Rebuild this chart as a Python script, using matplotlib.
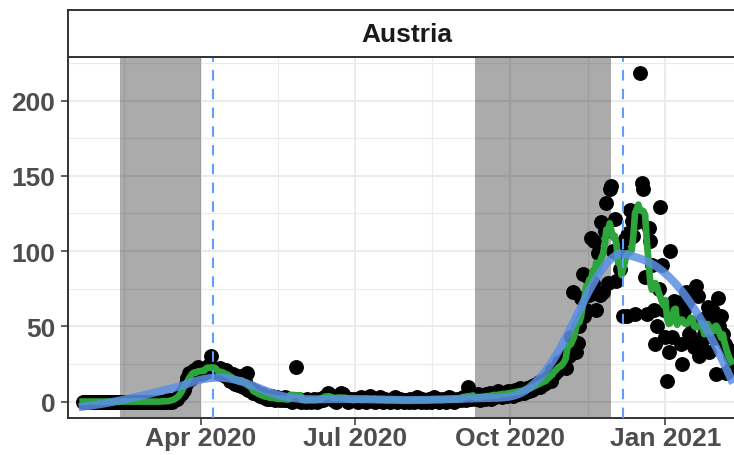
import numpy as np
import pandas as pd
import matplotlib
matplotlib.use('Agg')
import matplotlib.pyplot as plt
import matplotlib.dates as mdates
from matplotlib.ticker import FixedLocator

plt.rcParams['font.family'] = ['Liberation Sans', 'DejaVu Sans']
plt.rcParams['font.weight'] = 'bold'

country = 'Austria'
first_day = '2020-01-22'

# daily deaths, one list per month
jan20 = [0, 0, 0, 0, 0, 0, 0, 0, 0, 0]
feb20 = [0, 0, 0, 0, 0, 0, 0, 0, 0, 0, 0, 0, 0, 0, 0, 0, 0, 0, 0, 0,
         0, 0, 0, 0, 0, 0, 0, 0, 0]
mar20 = [0, 0, 0, 0, 0, 0, 0, 0, 0, 0, 0, 1, 0, 1, 0, 1, 2, 2, 4, 5,
         6, 8, 12, 16, 19, 15, 18, 21, 19, 23, 20]
apr20 = [18, 21, 19, 22, 20, 24, 30, 22, 20, 21, 19, 22, 18, 20, 17, 21, 19, 14, 16, 18,
         12, 15, 11, 17, 13, 10, 14, 19, 8, 9]
may20 = [8, 6, 7, 5, 6, 4, 5, 3, 4, 2, 3, 2, 4, 2, 1, 3, 2, 1, 2, 1,
         3, 1, 2, 1, 0, 2, 23, 1, 2, 0, 1]
jun20 = [1, 0, 2, 1, 0, 1, 2, 1, 0, 2, 1, 1, 3, 4, 6, 5, 4, 1, 2, 0,
         1, 3, 6, 5, 2, 1, 0, 1, 2, 1]
jul20 = [2, 1, 0, 1, 3, 1, 2, 0, 1, 4, 2, 1, 0, 2, 1, 3, 1, 0, 2, 1,
         1, 0, 2, 1, 3, 0, 1, 2, 1, 0, 1]
aug20 = [1, 0, 2, 1, 0, 1, 3, 1, 0, 2, 1, 0, 1, 2, 0, 1, 3, 1, 2, 0,
         1, 2, 1, 0, 2, 3, 1, 2, 0, 1, 2]
sep20 = [2, 1, 3, 2, 1, 10, 3, 2, 4, 3, 2, 5, 1, 3, 4, 2, 5, 3, 6, 2,
         4, 3, 5, 7, 4, 3, 6, 5, 4, 7]
oct20 = [5, 7, 4, 8, 6, 5, 9, 7, 6, 8, 9, 7, 10, 8, 11, 9, 12, 13, 10, 14,
         12, 15, 13, 17, 14, 21, 18, 22, 20, 26, 24]
nov20 = [23, 28, 22, 31, 30, 43, 73, 35, 33, 39, 50, 69, 85, 57, 61, 83, 71, 109, 79, 107,
         61, 99, 71, 119, 73, 113, 132, 79, 141, 143]
dec20 = [100, 121, 80, 98, 88, 100, 57, 108, 57, 112, 127, 120, 110, 58, 119, 125, 218, 145, 141, 83,
         58, 115, 107, 91, 61, 38, 50, 75, 129, 91, 61]
jan21 = [43, 14, 33, 100, 43, 67, 66, 60, 58, 38, 25, 61, 73, 66, 45, 53, 40, 36, 77, 70,
         30, 39, 55, 45, 48, 63, 33, 57, 60, 42, 18]
feb21 = [69, 50, 57, 45, 38, 19, 35, 30, 22]

# shaded periods and marked days
shade_start = ['2020-02-13', '2020-09-10']
shade_end = ['2020-04-01', '2020-11-30']
marked_days = ['2020-04-08', '2020-12-07']

y_ticks = [0, 50, 100, 150, 200]
x_ticks = ['2020-04-01', '2020-07-01', '2020-10-01', '2021-01-01']

deaths = np.array(jan20 + feb20 + mar20 + apr20 + may20 + jun20 + jul20 +
                  aug20 + sep20 + oct20 + nov20 + dec20 + jan21 + feb21, dtype=float)
dates = pd.date_range(first_day, periods=len(deaths), freq='D')

rolling = pd.Series(deaths).rolling(7, center=True, min_periods=1).mean().values


def loess(x, y, span):
    # local quadratic fit with tricube weights
    n = len(x)
    q = int(np.floor(n * span))
    fit = np.empty(n)
    for i, x0 in enumerate(x):
        dist = np.abs(x - x0)
        h = np.sort(dist)[q - 1]
        w = np.clip(1 - (dist / h) ** 3, 0, None) ** 3
        A = np.vstack([np.ones(n), x - x0, (x - x0) ** 2]).T
        sw = np.sqrt(w)
        coef = np.linalg.lstsq(A * sw[:, None], y * sw, rcond=None)[0]
        fit[i] = coef[0]
    return fit


day_num = np.arange(len(deaths), dtype=float)
smooth = loess(day_num, deaths, 0.35)

fig = plt.figure(figsize=(7.34, 4.56), dpi=100)
ax = fig.add_axes([68 / 734, 37 / 456, 678 / 734, 361 / 456])
strip = fig.add_axes([68 / 734, 398 / 456, 678 / 734, 47 / 456])

for a, b in zip(shade_start, shade_end):
    ax.axvspan(pd.Timestamp(a), pd.Timestamp(b), color='black', alpha=0.33, lw=0, zorder=1)

ax.scatter(dates, deaths, s=115, color='black', linewidths=0, zorder=3)
ax.plot(dates, rolling, color='#2CA53A', lw=4.8, zorder=4)
ax.plot(dates, smooth, color='#5B8FE3', lw=5.8, alpha=0.85, zorder=5)

for d in marked_days:
    ax.axvline(pd.Timestamp(d), color='#619CFF', lw=1.5, dashes=(5, 4), zorder=6)

t0 = mdates.date2num(pd.Timestamp(first_day))
ax.set_xlim(t0 - 8.7, t0 + 392.7)
ax.set_ylim(-10.9, 228.9)

major_x = [mdates.date2num(pd.Timestamp(t)) for t in ['2020-01-01'] + x_ticks + ['2021-04-01']]
ax.set_xticks([mdates.date2num(pd.Timestamp(t)) for t in x_ticks])
ax.xaxis.set_major_formatter(mdates.DateFormatter('%b %Y'))
ax.xaxis.set_minor_locator(FixedLocator([(a + b) / 2 for a, b in zip(major_x[:-1], major_x[1:])]))
ax.set_yticks(y_ticks)
ax.yaxis.set_minor_locator(FixedLocator([25, 75, 125, 175, 225]))

ax.set_axisbelow(True)
ax.grid(which='major', color='#EBEBEB', lw=1.5)
ax.grid(which='minor', color='#EBEBEB', lw=0.8)
ax.tick_params(which='major', length=5, width=1.1, color='#333333',
               labelsize=19, labelcolor='#4D4D4D')
ax.tick_params(axis='y', pad=4)
ax.tick_params(axis='x', pad=1)
ax.tick_params(which='minor', length=0)
for sp in ax.spines.values():
    sp.set_color('#333333')
    sp.set_linewidth(1.4)

strip.set_xticks([])
strip.set_yticks([])
strip.set_facecolor('white')
for sp in strip.spines.values():
    sp.set_color('#333333')
    sp.set_linewidth(1.4)
strip.text(0.5, 0.48, country, ha='center', va='center', fontsize=19,
           fontweight='bold', color='#1A1A1A', transform=strip.transAxes)

fig.savefig('out.png', dpi=100)
